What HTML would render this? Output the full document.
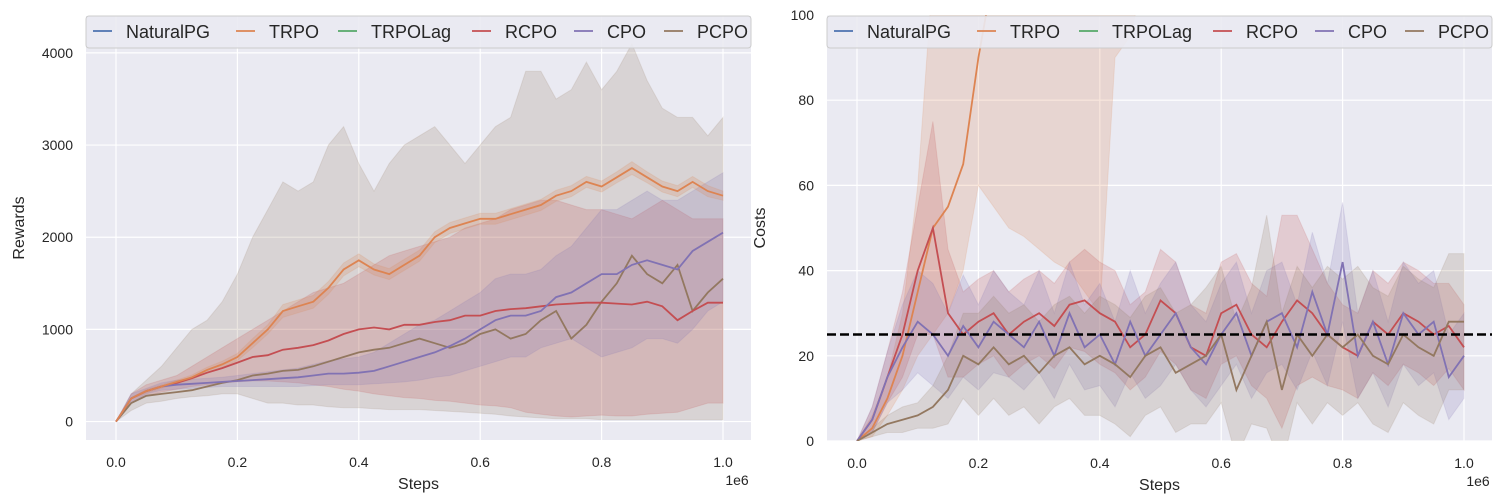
<!DOCTYPE html>
<html><head><meta charset="utf-8">
<style>
body{margin:0;background:#fff;}
svg{display:block;font-family:"Liberation Sans","DejaVu Sans",sans-serif;}
</style></head>
<body>
<svg id="c" width="1503" height="503" xmlns="http://www.w3.org/2000/svg"></svg>
<script>
const steps = [0,.025,.05,.075,.1,.125,.15,.175,.2,.225,.25,.275,.3,.325,.35,.375,.4,.425,.45,.475,.5,.525,.55,.575,.6,.625,.65,.675,.7,.725,.75,.775,.8,.825,.85,.875,.9,.925,.95,.975,1.0];
const seriesNames = ["NaturalPG","TRPO","TRPOLag","RCPO","CPO","PCPO"];
const colors = ["#4c72b0","#dd8452","#55a868","#c44e52","#8172b3","#937860"];
const rewardXTicks = ["0.0","0.2","0.4","0.6","0.8","1.0"];
const rewardYTicks = [0,1000,2000,3000,4000];
const costYTicks = [0,20,40,60,80,100];
// Rewards
const rTRPO = [0,250,330,380,430,480,560,620,700,850,1000,1200,1250,1300,1450,1650,1750,1650,1600,1700,1800,2000,2100,2150,2200,2200,2250,2300,2350,2450,2500,2600,2550,2650,2750,2650,2550,2500,2600,2500,2450];
const rTRPOLo = [0,240,310,360,410,455,530,585,660,800,950,1130,1180,1230,1380,1580,1680,1590,1540,1640,1740,1940,2040,2090,2140,2140,2190,2240,2290,2390,2440,2540,2490,2590,2680,2590,2490,2440,2540,2440,2400];
const rTRPOHi = [0,260,350,400,450,505,590,655,740,900,1050,1270,1320,1370,1520,1720,1820,1710,1660,1760,1860,2060,2160,2210,2260,2260,2310,2360,2410,2510,2560,2660,2610,2710,2820,2710,2610,2560,2660,2560,2500];
const rRCPO = [0,250,330,380,420,470,530,580,640,700,720,780,800,830,880,950,1000,1020,1000,1050,1050,1080,1100,1150,1150,1200,1220,1230,1250,1270,1280,1290,1290,1280,1270,1300,1250,1100,1200,1290,1290];
const rRCPOLo = [0,200,280,320,350,380,400,420,430,440,440,430,420,400,380,350,330,300,280,260,250,230,220,200,180,170,150,100,80,60,50,60,70,60,60,80,90,100,150,200,200];
const rRCPOHi = [0,300,400,450,500,600,700,800,900,1000,1100,1200,1300,1400,1450,1500,1600,1700,1800,1850,1900,1950,2000,2100,2150,2200,2300,2350,2400,2400,2350,2300,2300,2250,2200,2300,2400,2300,2200,2200,2200];
const rCPO = [0,250,330,380,400,410,420,430,440,450,460,470,480,500,520,520,530,550,600,650,700,750,820,900,1000,1100,1150,1150,1200,1350,1400,1500,1600,1600,1700,1750,1700,1650,1850,1950,2050];
const rCPOLo = [0,200,300,340,350,360,370,380,380,380,380,380,380,390,400,400,400,410,420,430,450,480,500,550,600,650,700,700,800,850,900,800,700,750,800,900,900,850,1000,1200,1300];
const rCPOHi = [0,300,360,420,450,460,470,480,500,520,540,560,580,620,660,680,700,750,850,950,1050,1100,1200,1300,1400,1550,1600,1600,1650,1800,1900,2100,2300,2300,2400,2500,2400,2400,2500,2600,2700];
const rPCPO = [0,200,280,300,320,340,380,420,450,500,520,550,560,600,650,700,750,780,800,850,900,850,800,850,950,1000,900,950,1100,1200,900,1050,1300,1500,1800,1600,1500,1700,1200,1400,1550];
const rPCPOLo = [0,120,200,220,250,270,280,300,300,250,200,200,180,180,160,150,150,140,130,130,130,120,110,100,90,80,60,50,40,30,30,30,20,20,20,20,20,20,20,20,20];
const rPCPOHi = [0,300,450,600,800,1000,1100,1300,1600,2000,2300,2600,2500,2600,3000,3200,2800,2500,2800,3000,3100,3200,3000,2800,3000,3200,3300,3800,3800,3500,3600,3900,3600,3800,4100,3700,3400,3300,3300,3100,3300];
// Costs
const cTRPO = [0,3,10,20,35,50,55,65,90,110,130,150,150,150,150,150,150,150,150,150,150,150,150,150,150,150,150,150,150,150,150,150,150,150,150,150,150,150,150,150,150];
const cTRPOLo = [0,1,6,12,20,25,30,40,60,55,50,48,45,42,40,35,30,90,95,110,120,130,130,130,130,130,130,130,130,130,130,130,130,130,130,130,130,130,130,130,130];
const cTRPOHi = [0,6,15,30,60,110,150,200,200,200,200,200,200,200,200,200,200,200,200,200,200,200,200,200,200,200,200,200,200,200,200,200,200,200,200,200,200,200,200,200,200];
const cRCPO = [0,5,15,25,40,50,30,25,28,30,25,28,30,27,32,33,30,28,22,25,33,30,22,20,30,32,25,22,28,33,30,25,22,20,28,25,30,28,25,27,22];
const cRCPOSpread = [0,3,6,10,15,25,15,10,10,10,10,10,10,10,10,12,12,12,10,10,12,12,10,10,12,12,12,12,25,20,15,12,10,10,12,12,12,12,12,10,10];
const cCPO = [0,5,15,22,28,25,20,27,22,28,25,22,28,20,30,22,25,18,28,20,25,30,22,18,25,30,20,28,30,22,35,25,42,20,28,18,30,25,28,15,20];
const cCPOSpread = [0,3,6,10,12,12,10,12,10,12,10,10,12,10,12,10,12,10,12,10,12,12,10,10,12,12,10,12,12,10,14,12,14,10,12,10,12,12,12,10,10];
const cPCPO = [0,2,4,5,6,8,12,20,18,22,18,20,16,20,22,18,20,18,15,20,22,16,18,20,25,12,20,28,12,25,20,25,22,25,20,18,25,22,20,28,28];
const cPCPOSpread = [0,1,2,3,3,5,8,10,12,12,12,12,12,12,12,12,14,14,14,14,14,14,14,16,16,16,16,25,18,16,16,16,16,16,16,16,16,16,16,16,16];
const costLimit = 25;

const NS="http://www.w3.org/2000/svg";
const svg=document.getElementById('c');
function mk(tag,attrs,parent){const e=document.createElementNS(NS,tag);for(const k in attrs)e.setAttribute(k,attrs[k]);(parent||svg).appendChild(e);return e;}
function txt(s,attrs,parent){const e=mk('text',attrs,parent);e.textContent=s;return e;}

function panel(opt){
  const {L,R,T,B,ymin,ymax,yticks,name}=opt;
  const sx=v=>L+30+v*607;
  const sy=v=>B-(v-ymin)/(ymax-ymin)*(B-T);
  const g=mk('g',{});
  
  
  const bg=mk('rect',{x:L,y:T,width:R-L,height:B-T,fill:'#eaeaf2'},g);
  
  
  const clipId=name+'-clip';
  const cp=mk('clipPath',{id:clipId},g);mk('rect',{x:L,y:T,width:R-L,height:B-T},cp);
  rewardXTicks.forEach((t,i)=>{const x=sx(+t);
    mk('line',{x1:x,x2:x,y1:T,y2:B,stroke:'#fff','stroke-width':1.2},g);
    const e=txt(t,{x:x,y:B+27,'text-anchor':'middle','font-size':14,fill:'#262626'},g);
    
    });
  yticks.forEach(t=>{const y=sy(t);
    mk('line',{x1:L,x2:R,y1:y,y2:y,stroke:'#fff','stroke-width':1.2},g);
    const e=txt(String(t),{x:L-13,y:y+5,'text-anchor':'end','font-size':14,fill:'#262626'},g);
    
    });
  const pg=mk('g',{'clip-path':'url(#'+clipId+')'},g);
  opt.series.forEach(s=>{
    let d='';steps.forEach((x,i)=>{d+=(i?'L':'M')+sx(x).toFixed(1)+','+sy(s.hi[i]).toFixed(1);});
    for(let i=steps.length-1;i>=0;i--)d+='L'+sx(steps[i]).toFixed(1)+','+sy(s.lo[i]).toFixed(1);
    const b=mk('path',{d:d+'Z',fill:colors[s.c],'fill-opacity':0.2,stroke:colors[s.c],'stroke-opacity':0.15},pg);
    
    
  });
  opt.series.forEach(s=>{
    const d=steps.map((x,i)=>(i?'L':'M')+sx(x).toFixed(1)+','+sy(s.m[i]).toFixed(1)).join('');
    const l=mk('path',{d:d,fill:'none',stroke:colors[s.c],'stroke-width':1.8},pg);
    
    
  });
  if(opt.limit!==undefined){
    const l=mk('line',{x1:L,x2:R,y1:sy(opt.limit),y2:sy(opt.limit),stroke:'#000','stroke-width':2.5,'stroke-dasharray':'9,4'},pg);
    
    
  }
  const xt=txt('Steps',{x:(L+R)/2,y:B+49,'text-anchor':'middle','font-size':16,fill:'#262626'},g);
  
  
  const ex=txt('1e6',{x:R-14,y:B+45,'text-anchor':'middle','font-size':14,fill:'#262626'},g);
  
  
  const yt=txt(opt.ytitle,{x:0,y:0,'text-anchor':'middle','font-size':16,fill:'#262626',transform:'translate('+(L-62)+','+((T+B)/2)+') rotate(-90)'},g);
  
  
  // legend
  const lg=mk('g',{},g);
  
  
  mk('rect',{x:L,y:16,width:R-L,height:32,rx:3,fill:'#eaeaf2','fill-opacity':0.9,stroke:'#cccccc'},lg);
  const offs=[7,150,252,386,488,578];
  seriesNames.forEach((n,i)=>{
    const x=L+offs[i];
    const it=mk('g',{},lg);
    
    
    mk('line',{x1:x,x2:x+19,y1:31,y2:31,stroke:colors[i],'stroke-width':1.8},it);
    txt(n,{x:x+33,y:38,'font-size':18,fill:'#262626'},it);
  });
}
panel({name:'rewards',L:86,R:751,T:16,B:440,ymin:-200,ymax:4400,yticks:rewardYTicks,ytitle:'Rewards',
  series:[{c:5,m:rPCPO,lo:rPCPOLo,hi:rPCPOHi},{c:3,m:rRCPO,lo:rRCPOLo,hi:rRCPOHi},{c:4,m:rCPO,lo:rCPOLo,hi:rCPOHi},{c:1,m:rTRPO,lo:rTRPOLo,hi:rTRPOHi}]});
const cs=(m,s,f)=>m.map((v,i)=>v+f*s[i]);
panel({name:'costs',L:827,R:1492,T:15,B:441,ymin:0,ymax:100,yticks:costYTicks,ytitle:'Costs',limit:costLimit,
  series:[{c:1,m:cTRPO,lo:cTRPOLo,hi:cTRPOHi},{c:3,m:cRCPO,lo:cs(cRCPO,cRCPOSpread,-1),hi:cs(cRCPO,cRCPOSpread,1)},{c:4,m:cCPO,lo:cs(cCPO,cCPOSpread,-1),hi:cs(cCPO,cCPOSpread,1)},{c:5,m:cPCPO,lo:cs(cPCPO,cPCPOSpread,-1),hi:cs(cPCPO,cPCPOSpread,1)}]});
</script>
</body></html>
